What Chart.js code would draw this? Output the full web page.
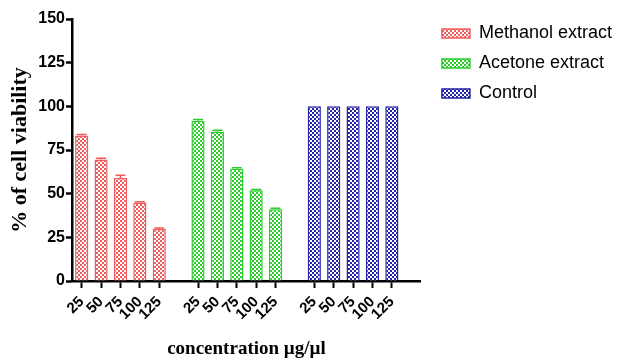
<!DOCTYPE html>
<html>
<head>
<meta charset="utf-8">
<script src="https://cdn.jsdelivr.net/npm/chart.js@4/dist/chart.umd.min.js"></script>
<style>
  html, body { margin: 0; padding: 0; background: #fff; }
  #wrap { width: 621px; height: 360px; }
</style>
</head>
<body>
<div id="wrap"><canvas id="chart-bars"></canvas></div>
<script>
// concentrations (µg/µl) used in every group
var concLabels = ['25', '50', '75', '100', '125'];
var seriesNames = ['Methanol extract', 'Acetone extract', 'Control'];

// % of cell viability
var methanolData = [83.3, 69.6, 59, 44.9, 29.7];
var acetoneData = [91.8, 85.6, 64.2, 51.9, 41.1];
var controlData = [100, 100, 100, 100, 100];

// error bar sizes (+)
var methanolErr = [0.6, 0.7, 1.6, 0.5, 0.6];
var acetoneErr = [0.6, 0.7, 0.6, 0.5, 0.5];
var controlErr = [0, 0, 0, 0, 0];

var yTicks = [0, 25, 50, 75, 100, 125, 150];

// category axis: 3 groups of 5 with an empty slot between groups and one at the end
var labels = [];
concLabels.forEach(function (l) { labels.push(l); });
labels.push('');
concLabels.forEach(function (l) { labels.push(l); });
labels.push('');
concLabels.forEach(function (l) { labels.push(l); });
labels.push('');

function placeInGroup(values, group) {
    var out = labels.map(function () { return null; });
    for (var i = 0; i < values.length; i++) {
        out[group * 6 + i] = values[i];
    }
    return out;
}

function checker(color) {
    var c = document.createElement('canvas');
    c.width = 4;
    c.height = 4;
    var cx = c.getContext('2d');
    cx.fillStyle = '#ffffff';
    cx.fillRect(0, 0, 4, 4);
    cx.fillStyle = color;
    cx.fillRect(0, 0, 2, 2);
    cx.fillRect(2, 2, 2, 2);
    return document.getElementById('chart-bars').getContext('2d').createPattern(c, 'repeat');
}

var colors = ['#f05c5c', '#2ccc2c', '#2323a8'];

var errorBars = {
    id: 'errorBars',
    afterDatasetsDraw: function (chart) {
        var ctx = chart.ctx;
        var y = chart.scales.y;
        chart.data.datasets.forEach(function (ds, di) {
            var meta = chart.getDatasetMeta(di);
            ds.data.forEach(function (v, i) {
                if (v === null || !ds.errors[i]) return;
                var bar = meta.data[i];
                var top = y.getPixelForValue(v + ds.errors[i]);
                var half = bar.width * 0.38;
                ctx.save();
                ctx.strokeStyle = ds.borderColor;
                ctx.lineWidth = 1.5;
                ctx.beginPath();
                ctx.moveTo(bar.x, bar.y);
                ctx.lineTo(bar.x, top);
                ctx.moveTo(bar.x - half, top);
                ctx.lineTo(bar.x + half, top);
                ctx.stroke();
                ctx.restore();
            });
        });
    }
};

var allData = [methanolData, acetoneData, controlData];
var allErr = [methanolErr, acetoneErr, controlErr];

var datasets = seriesNames.map(function (name, g) {
    return {
        label: name,
        data: placeInGroup(allData[g], g),
        errors: placeInGroup(allErr[g], g),
        backgroundColor: checker(colors[g]),
        borderColor: colors[g],
        borderWidth: 1.5,
        grouped: false,
        categoryPercentage: 1,
        barPercentage: 0.68
    };
});

var ctx = document.getElementById('chart-bars').getContext('2d');
var myChart = new Chart(ctx, {
    type: 'bar',
    data: { labels: labels, datasets: datasets },
    plugins: [errorBars],
    options: {
        responsive: true,
        maintainAspectRatio: false,
        animation: false,
        layout: { padding: { top: 8, right: -1, bottom: 0, left: 0 } },
        plugins: {
            tooltip: { enabled: false },
            legend: {
                position: 'right',
                align: 'start',
                maxWidth: 240,
                title: { display: true, text: ' ', font: { size: 2 }, padding: 1 },
                labels: {
                    boxWidth: 28,
                    boxHeight: 9,
                    padding: 12,
                    color: '#000',
                    font: { family: 'Liberation Sans, Arial, sans-serif', size: 18 }
                }
            }
        },
        scales: {
            x: {
                grid: {
                    display: true,
                    drawOnChartArea: false,
                    offset: false,
                    tickLength: 7,
                    tickWidth: 2,
                    tickColor: function (c) {
                        return (c.tick && c.tick.label === '') ? 'rgba(0,0,0,0)' : '#000';
                    }
                },
                border: { color: '#000', width: 2.5 },
                ticks: {
                    autoSkip: false,
                    maxRotation: 45,
                    minRotation: 45,
                    padding: 5,
                    color: '#000',
                    font: { family: 'Liberation Sans, Arial, sans-serif', size: 15, weight: 'bold' }
                },
                title: {
                    display: true,
                    text: 'concentration µg/µl',
                    color: '#000',
                    padding: { top: 0, bottom: 0 },
                    font: { family: 'Liberation Serif, Times New Roman, serif', size: 19, weight: 'bold' }
                },
                afterFit: function (s) { s.height = 79; }
            },
            y: {
                min: 0,
                max: 150,
                afterBuildTicks: function (s) {
                    s.ticks = yTicks.map(function (v) { return { value: v }; });
                },
                grid: {
                    display: true,
                    drawOnChartArea: false,
                    tickLength: 6,
                    tickWidth: 2.5,
                    tickColor: '#000'
                },
                border: { color: '#000', width: 2.5 },
                ticks: {
                    padding: 1,
                    color: '#000',
                    font: { family: 'Liberation Sans, Arial, sans-serif', size: 16, weight: 'bold' }
                },
                title: {
                    display: true,
                    text: '% of cell viability',
                    color: '#000',
                    padding: { top: 7, bottom: 0 },
                    font: { family: 'Liberation Serif, Times New Roman, serif', size: 22, weight: 'bold' }
                },
                afterFit: function (s) { s.width = 72; }
            },
            gap: {
                position: 'right',
                display: true,
                grid: { display: false },
                border: { display: false },
                ticks: { display: false },
                afterFit: function (s) { s.width = 9; }
            },
            gapTop: {
                position: 'top',
                display: true,
                grid: { display: false },
                border: { display: false },
                ticks: { display: false },
                afterFit: function (s) { s.height = 11; }
            }
        }
    }
});
</script>
</body>
</html>
